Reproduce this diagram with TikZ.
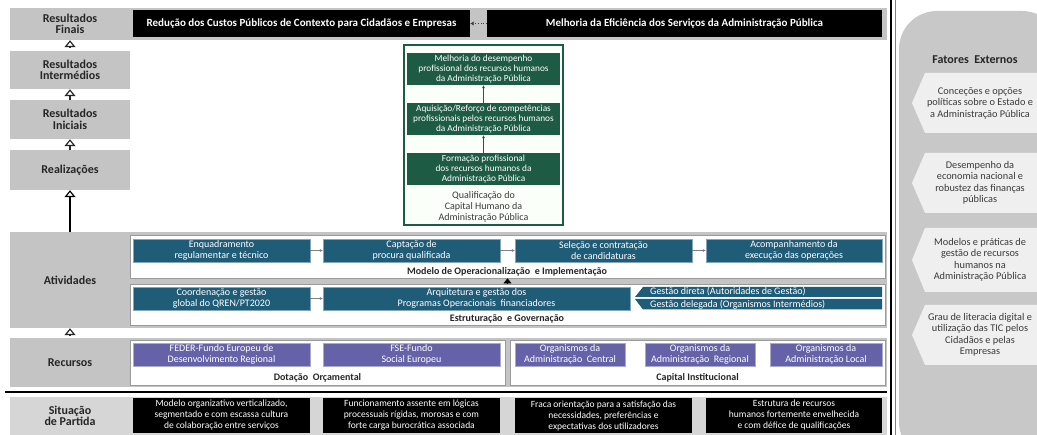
\documentclass[tikz,border=0pt]{standalone}
\usepackage{fontspec}
\setmainfont{Carlito}
\usetikzlibrary{arrows.meta}

\definecolor{bandgray}{HTML}{C4C4C4}
\definecolor{lightband}{HTML}{D6D6D6}
\definecolor{grn}{HTML}{1E5B45}
\definecolor{blu}{HTML}{1F5C78}
\definecolor{pur}{HTML}{6562A8}
\definecolor{panel}{HTML}{C8C8C8}
\definecolor{tabfill}{HTML}{EFEFEF}
\definecolor{framegray}{HTML}{9A9A9A}
\definecolor{txtgray}{HTML}{3A3A3A}

\begin{document}
\begin{tikzpicture}[x=1pt,y=-1pt,
  lvl/.style={fill=bandgray, inner sep=0pt, align=center, minimum width=120pt,
    font=\fontsize{12}{11.5}\selectfont\bfseries, text=black!85},
  blkbox/.style={fill=black, text=white, inner sep=0pt, align=center,
    font=\fontsize{9.5}{11}\selectfont},
  headbox/.style={fill=black, text=white, inner sep=0pt, align=center,
    font=\fontsize{11}{12}\selectfont\bfseries},
  grnbox/.style={fill=grn, text=white, inner sep=0pt, align=center,
    minimum width=153pt, minimum height=32pt, font=\fontsize{9.3}{10.4}\selectfont},
  blubox/.style={fill=blu, draw=blu!55!white, line width=0.4pt, text=white, inner sep=0pt,
    align=center, minimum height=23pt, font=\fontsize{10}{10.5}\selectfont},
  purbox/.style={fill=pur, draw=pur!55!white, line width=0.4pt, text=white, inner sep=0pt,
    align=center, minimum height=23pt, font=\fontsize{10}{10.5}\selectfont},
  frm/.style={fill=white, draw=framegray, line width=0.8pt, inner sep=0pt},
  boxcaption/.style={font=\fontsize{10}{11}\selectfont\bfseries, text=black!85, inner sep=0pt},
  bandtxt/.style={font=\fontsize{10}{11}\selectfont, text=white, anchor=west, inner sep=0pt},
  tabtxt/.style={font=\fontsize{10.3}{11.5}\selectfont, text=txtgray, align=center, inner sep=0pt},
  openhead/.style={-{Triangle[open, length=7pt, width=11pt, line width=1.2pt]}, line width=1.8pt, black!85},
  garrow/.style={-{Latex[length=3pt, width=3pt]}, line width=0.8pt, gray},
  grnarrow/.style={-{Latex[length=3pt, width=3pt]}, line width=0.8pt, grn},
]
\useasboundingbox (0,0) rectangle (1037,435);
\fill[white] (0,0) rectangle (1037,435);

% ---------- horizontal bands ----------
\fill[bandgray] (10,8) rectangle (887,40);
\fill[bandgray] (10,232) rectangle (887,328);
\fill[bandgray] (10,338) rectangle (887,387);
\fill[lightband] (10,397) rectangle (887,435);

% ---------- level labels ----------
\node[lvl, minimum height=32pt] (rfin) at (70,24) {Resultados\\Finais};
\node[lvl, minimum height=38pt] (rint) at (70,70) {Resultados\\Intermédios};
\node[lvl, minimum height=39pt] (rini) at (70,119.5) {Resultados\\Iniciais};
\node[lvl, minimum height=40pt] (real) at (70,170) {Realizações};
\node[lvl, minimum height=96pt] (ativ) at (70,280) {Atividades};
\node[lvl, minimum height=49pt] (recu) at (70,362.5) {Recursos};
\node[lvl, fill=lightband, minimum height=38pt] (sitp) at (70,416) {Situação\\de Partida};

\draw[openhead, shorten <=3pt] (rint.north) -- (rfin.south);
\draw[openhead] (rini.north) -- (rint.south);
\draw[openhead] (real.north) -- (rini.south);
\draw[openhead, line width=2.4pt, black] (ativ.north) -- (real.south);
\draw[openhead, shorten <=3pt] (recu.north) -- (ativ.south);

% ---------- final results ----------
\node[headbox, minimum width=337pt, minimum height=27pt] (custos) at (301.5,23.5)
  {Redução dos Custos Públicos de Contexto para Cidadãos e Empresas};
\node[headbox, minimum width=395pt, minimum height=27pt] (eficiencia) at (684.5,23.5)
  {Melhoria da Eficiência dos Serviços da Administração Pública};
\draw[-{Latex[length=3.5pt, width=4.5pt]}, line width=0.7pt, black!75, dotted]
  (eficiencia.west) -- (custos.east);

% ---------- human capital chain ----------
\node[draw=grn, line width=1.2pt, fill=green!2, minimum width=159pt, minimum height=180pt,
  inner sep=0pt] (qualif) at (483.5,135) {};
\node[grnbox] (melhoria) at (483.5,69)
  {Melhoria do desempenho\\profissional dos recursos humanos\\da Administração Pública};
\node[grnbox] (aquisicao) at (483.5,119)
  {Aquisição/Reforço de competências\\profissionais pelos recursos humanos\\da Administração Pública};
\node[grnbox] (formacao) at (483.5,169)
  {Formação profissional\\dos recursos humanos da\\Administração Pública};
\node[font=\fontsize{10}{11.3}\selectfont, text=txtgray, align=center, inner sep=0pt]
  (qualtxt) at (483.5,207) {Qualificação do\\Capital Humano da\\Administração Pública};
\draw[grnarrow] (formacao.north) -- (aquisicao.south);
\draw[grnarrow] (aquisicao.north) -- (melhoria.south);

% ---------- activities ----------
\node[frm, minimum width=755pt, minimum height=43pt] (modelo) at (507.5,256.5) {};
\node[frm, minimum width=755pt, minimum height=41pt] (estrut) at (507.5,304.5) {};

\node[blubox, minimum width=177pt] (enq) at (221.5,250.5) {Enquadramento\\regulamentar e técnico};
\node[blubox, minimum width=177pt] (capt) at (411.5,250.5) {Captação de\\procura qualificada};
\node[blubox, minimum width=177pt] (sel) at (603.5,250.5) {Seleção e contratação\\de candidaturas};
\node[blubox, minimum width=176pt] (acomp) at (794,250.5) {Acompanhamento da\\execução das operações};
\draw[garrow] (enq) -- (capt);
\draw[garrow] (capt) -- (sel);
\draw[garrow] (sel) -- (acomp);
\node[boxcaption] (modlbl) at (507,271.5) {Modelo de Operacionalização\ \ e Implementação};

\node[blubox, minimum width=177pt] (coord) at (221.5,298.5) {Coordenação e gestão\\global do QREN/PT2020};
\node[blubox, minimum width=307pt] (arq) at (476.5,298.5) {Arquitetura e gestão dos\\Programas Operacionais\ \ financiadores};
\draw[garrow] (coord) -- (arq);
\fill[blu] (643,287) -- (882,287) -- (882,297) -- (635,297) -- cycle;
\fill[blu] (635,299) -- (882,299) -- (882,309.5) -- (643,309.5) -- cycle;
\node[bandtxt] (gdir) at (650,292) {Gestão direta (Autoridades de Gestão)};
\node[bandtxt] (gdel) at (650,304.5) {Gestão delegada (Organismos Intermédios)};
\node[boxcaption] (estlbl) at (507,318.5) {Estruturação\ \ e Governação};
\draw[-{Triangle[length=5pt, width=8pt]}, line width=0.5pt] (estrut.north) -- (modelo.south);

% ---------- resources ----------
\node[frm, minimum width=375pt, minimum height=45pt] (dotacao) at (317.5,363) {};
\node[frm, minimum width=375pt, minimum height=45pt] (capinst) at (697.5,363) {};
\node[purbox, minimum width=177pt] (feder) at (221.5,354.5) {FEDER-Fundo Europeu de\\Desenvolvimento Regional};
\node[purbox, minimum width=177pt] (fse) at (411.5,354.5) {FSE-Fundo\\Social Europeu};
\node[purbox, minimum width=110pt] (oac) at (570,354.5) {Organismos da\\Administração\ \ Central};
\node[purbox, minimum width=110pt] (oar) at (700,354.5) {Organismos da\\Administração\ \ Regional};
\node[purbox, minimum width=112pt] (oal) at (826,354.5) {Organismos da\\Administração Local};
\node[boxcaption] (dotlbl) at (317.5,377.5) {Dotação\ \ Orçamental};
\node[boxcaption] (caplbl) at (697.5,377.5) {Capital Institucional};

% ---------- starting situation ----------
\draw[line width=2.4pt] (5,392) -- (887,392);
\node[blkbox, minimum width=177pt, minimum height=35pt] (sit1) at (221.5,415.5)
  {Modelo organizativo verticalizado,\\segmentado e com escassa cultura\\de colaboração entre serviços};
\node[blkbox, minimum width=177pt, minimum height=35pt] (sit2) at (411.5,415.5)
  {Funcionamento assente em lógicas\\processuais rígidas, morosas e com\\forte carga burocrática associada};
\node[blkbox, minimum width=177pt, minimum height=35pt] (sit3) at (603.5,415.5)
  {Fraca orientação para a satisfação das\\necessidades, preferências e\\expectativas dos utilizadores};
\node[blkbox, minimum width=176pt, minimum height=35pt] (sit4) at (794,415.5)
  {Estrutura de recursos\\humanos fortemente envelhecida\\e com défice de qualificações};

% ---------- external factors panel ----------
\draw[line width=1.8pt] (891,0) -- (891,435);
\draw[line width=0.6pt, gray] (895,0) -- (895,435);
\fill[panel, rounded corners=38pt] (899,460) -- (899,11) -- (1060,11) -- (1060,460) -- cycle;
\node[font=\fontsize{12}{13}\selectfont\bfseries, text=black!85, inner sep=0pt]
  (fatores) at (975,60) {Fatores\ \ Externos};

\fill[tabfill] (912,103) -- (925,73) -- (1037,73) -- (1037,133) -- (925,133) -- cycle;
\fill[tabfill] (912,183) -- (925,153) -- (1037,153) -- (1037,213) -- (925,213) -- cycle;
\fill[tabfill] (912,260) -- (925,228) -- (1037,228) -- (1037,292) -- (925,292) -- cycle;
\fill[tabfill] (912,335) -- (925,305) -- (1037,305) -- (1037,365) -- (925,365) -- cycle;
\node[tabtxt] (fe1) at (980,103) {Conceções e opções\\políticas sobre o Estado e\\a Administração Pública};
\node[tabtxt] (fe2) at (980,183) {Desempenho da\\economia nacional e\\robustez das finanças\\públicas};
\node[tabtxt] (fe3) at (980,260) {Modelos e práticas de\\gestão de recursos\\humanos na\\Administração Pública};
\node[tabtxt] (fe4) at (980,335) {Grau de literacia digital e\\utilização das TIC pelos\\Cidadãos e pelas\\Empresas};
\end{tikzpicture}
\end{document}
